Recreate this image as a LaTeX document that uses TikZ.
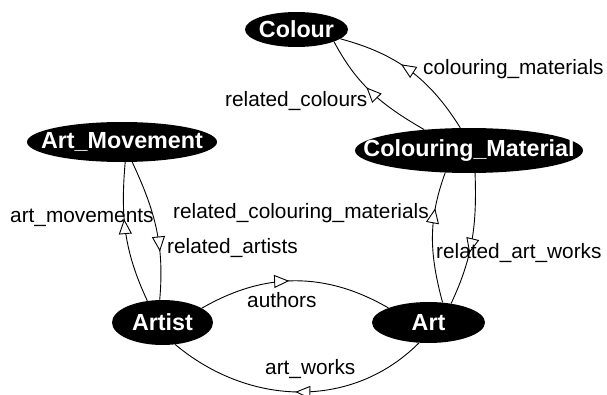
\documentclass[tikz,border=0pt]{standalone}
\usepackage{fontspec}
\setmainfont{Liberation Sans}
\usetikzlibrary{shapes.geometric,arrows.meta,decorations.markings}

\tikzset{
  cls/.style={ellipse, fill=black, text=white, inner sep=0pt,
    font=\fontsize{23.3}{26}\selectfont\bfseries},
  lbl/.style={inner sep=0pt, anchor=base west,
    font=\fontsize{20.8}{24}\selectfont},
  rel/.style={line width=0.9pt},
  midarrow/.style={postaction={decorate}, decoration={markings,
    mark=at position #1 with {\arrow{>}}}},
  >={Triangle[fill=white, length=15pt, width=13pt, line width=0.9pt]}
}
\newcommand{\zw}[1]{\makebox[0pt]{#1}}

\begin{document}
\begin{tikzpicture}[x=1pt, y=1pt]

    % Fix the page size
    \useasboundingbox (0,0) rectangle (607,394);

    % Define the classes
    \node[cls, minimum width=103, minimum height=35] (colour) at (296.5,364.5) {\zw{Colour}};
    \node[cls, minimum width=228, minimum height=45] (colmat) at (469,243.5) {\zw{Colouring\_Material}};
    \node[cls, minimum width=190, minimum height=40] (artmov) at (122,252) {\zw{Art\_Movement}};
    \node[cls, minimum width=101, minimum height=45] (artist) at (162.5,71.5) {\zw{Artist}};
    \node[cls, minimum width=113, minimum height=41] (art) at (428.5,71.5) {\zw{Art}};

    % Draw the relations
    \draw[rel, midarrow=0.57] (colmat.111) to[out=122, in=-15] (colour.-12);
    \draw[rel, midarrow=0.56] (colmat.155) to[out=150, in=-62] (colour.-18);
    \draw[rel, midarrow=0.6] (artist.125) to[out=115, in=-95] (artmov.-81);
    \draw[rel, midarrow=0.66] (artmov.-63) to[out=-65, in=85] (artist.97);
    \draw[rel, midarrow=0.47] (artist.20) to[out=30, in=150] (art.160);
    \draw[rel, midarrow=0.51] (art.-115) to[out=-135, in=-40] (artist.-60);
    \draw[rel, midarrow=0.72] (art.55) to[out=105, in=-110] (colmat.-137);
    \draw[rel, midarrow=0.6] (colmat.-75) to[out=-88, in=65] (art.40);

    % Add labels for the relations
    \node[lbl] (lcolmat) at (423,319) {colouring\_materials};
    \node[lbl] (lrelcol) at (225,287) {related\_colours};
    \node[lbl] (lartmov) at (10,172) {art\_movements};
    \node[lbl] (lrelcm) at (173,176) {related\_colouring\_materials};
    \node[lbl] (lrelart) at (167,141) {related\_artists};
    \node[lbl] (lrelaw) at (436,136) {related\_art\_works};
    \node[lbl] (lauth) at (247,87) {authors};
    \node[lbl] (lartw) at (265,20) {art\_works};

\end{tikzpicture}
\end{document}
